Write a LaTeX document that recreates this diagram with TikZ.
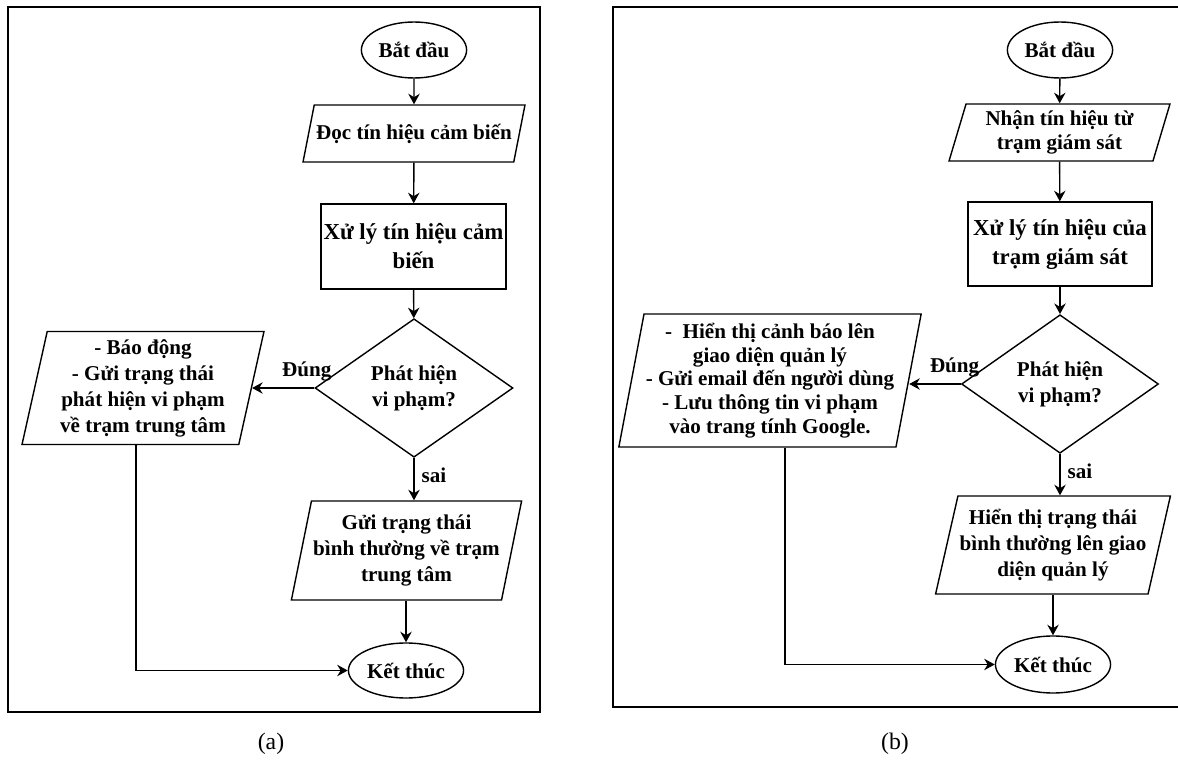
\documentclass[tikz,border=0pt]{standalone}
\usepackage{fontspec}
\setmainfont{Liberation Serif}
\usetikzlibrary{shapes.geometric,arrows.meta,calc}
\begin{document}
\begin{tikzpicture}[x=0.02cm,y=-0.02cm,line width=0.8pt,
                    txt/.style={font=\bfseries\fontsize{12}{14.8}\selectfont,align=center,inner sep=1pt},
                    term/.style={txt,draw,ellipse,minimum width=2cm,minimum height=1.12cm},
                    io/.style={txt,draw,trapezium,trapezium stretches body},
                    proc/.style={txt,draw,rectangle,font=\bfseries\fontsize{13}{16.5}\selectfont},
                    dec/.style={txt,draw,diamond,minimum width=3.96cm,minimum height=2.22cm},
                    subcap/.style={font=\fontsize{13.5}{16}\selectfont},
                    arr/.style={-{Stealth[length=6pt,width=6.5pt]}}]
                    \useasboundingbox (0,0) rectangle (1178,760);

                    \draw (8,7) rectangle (540,712);
                    \draw (1185,7)--(613,7)--(613,707)--(1185,707);

                    \node[term] (s1) at (414,50) {Bắt đầu};
                    \node[io,trapezium left angle=64,trapezium right angle=116,minimum width=4.44cm,minimum height=1.14cm] (p1) at (414,133.5) {Đọc tín hiệu cảm biến};
                    \node[proc,minimum width=3.7cm,minimum height=1.7cm] (r1) at (413.5,246.5) {Xử lý tín hiệu cảm\\biến};
                    \node[dec] (d1) at (414,388) {Phát hiện\\vi phạm?};
                    \node[io,trapezium left angle=76,trapezium right angle=104,minimum width=4.84cm,minimum height=2.26cm] (l1) at (143,388) {- Báo động\\- Gửi trạng thái\\phát hiện vi phạm\\về trạm trung tâm};
                    \node[io,trapezium left angle=75,trapezium right angle=105,minimum width=4.54cm,minimum height=1.98cm] (b1) at (406.5,550.5) {Gửi trạng thái\\bình thường về trạm\\trung tâm};
                    \node[term,minimum width=1.96cm,minimum height=1.1cm] (e1) at (406,670.5) {Kết thúc};

                    \draw[arr] (s1)--(p1);
                    \draw[arr] (p1)--(r1);
                    \draw[arr] (r1)--(d1);
                    \draw[arr] (d1.west)--node[txt,pos=0.12,above=2.5pt]{Đúng} (d1.west -| l1.east);
                    \draw[arr] (d1.south)--node[txt,pos=0.41,right=3pt]{sai} (d1.south |- b1.north);
                    \draw[arr] (e1.north |- b1.south)--(e1.north);
                    \draw[arr] ($(l1.south)+(-7,0)$) |- (e1.west);
                    \node[subcap] (capa) at (271,744) {(a)};

                    \node[term] (s2) at (1060,50) {Bắt đầu};
                    \node[io,trapezium left angle=70,trapezium right angle=110,minimum width=4.42cm,minimum height=1.14cm,font=\bfseries\fontsize{12}{13.5}\selectfont] (p2) at (1059.5,132.5) {Nhận tín hiệu từ\\trạm giám sát};
                    \node[proc,minimum width=3.68cm,minimum height=1.68cm] (r2) at (1060,244) {Xử lý tín hiệu của\\trạm giám sát};
                    \node[dec,minimum width=3.94cm,minimum height=2.24cm] (d2) at (1060,384) {Phát hiện\\vi phạm?};
                    \node[io,trapezium left angle=78,trapezium right angle=102,minimum width=5.68cm,minimum height=2.66cm,font=\bfseries\fontsize{12}{13.5}\selectfont] (l2) at (770,380.5) {-\ \ Hiển thị cảnh báo lên\\giao diện quản lý\\- Gửi email đến người dùng\\- Lưu thông tin vi phạm\\vào trang tính Google.};
                    \node[io,trapezium left angle=73.5,trapezium right angle=106.5,minimum width=4.52cm,minimum height=1.96cm] (b2) at (1053,545) {Hiển thị trạng thái\\bình thường lên giao\\diện quản lý};
                    \node[term,minimum width=1.98cm,minimum height=1.14cm] (e2) at (1053,664.5) {Kết thúc};

                    \draw[arr] (s2)--(p2);
                    \draw[arr] (p2)--(r2);
                    \draw[arr] (r2)--(d2);
                    \draw[arr] (d2.west)--node[txt,pos=0.12,above=2.5pt]{Đúng} (d2.west -| l2.east);
                    \draw[arr] (d2.south)--node[txt,pos=0.41,right=3pt]{sai} (d2.south |- b2.north);
                    \draw[arr] (e2.north |- b2.south)--(e2.north);
                    \draw[arr] ($(l2.south)+(15,0)$) |- (e2.west);
                    \node[subcap] (capb) at (895,744) {(b)};
\end{tikzpicture}
\end{document}
